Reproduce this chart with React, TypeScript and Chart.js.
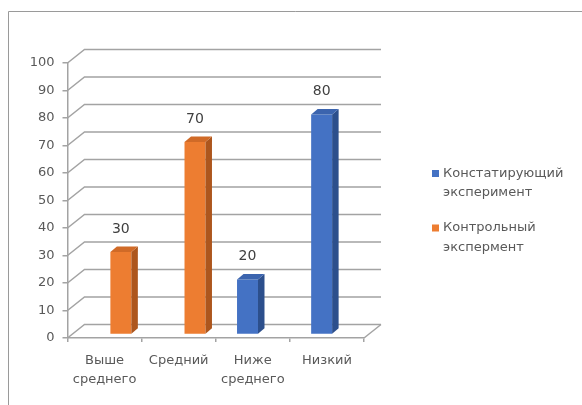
import React, { useEffect, useRef } from "react";
import { Chart, registerables } from "chart.js";

Chart.register(...registerables);

// ---- data ----
const categories: (string | string[])[] = [["Выше", "среднего"], "Средний", ["Ниже", "среднего"], "Низкий"];
const series1Name: string[] = ["Констатирующий", "эксперимент"];
const series2Name: string[] = ["Контрольный", "экспермент"];
const series1Values: (number | null)[] = [null, null, 20, 80];
const series2Values: (number | null)[] = [30, 70, null, null];
const yMin = 0;
const yMax = 100;
const yStep = 10;

// ---- styles ----
const BLUE = "#4472C4";
const BLUE_TOP = "#3b64ae";
const BLUE_SIDE = "#2c4f8c";
const ORANGE = "#ED7D31";
const ORANGE_TOP = "#d06a27";
const ORANGE_SIDE = "#ad561d";
const GRID = "#a3a3a3";
const TEXT = "#595959";
const LABEL = "#404040";
const FONT = "'DejaVu Sans', sans-serif";

// 3D geometry (px)
const WALL_DX = 17;
const WALL_DY = 13.5;
const FRONT_DX = 5.5;
const FRONT_DY = 3.5;
const DEPTH_DX = 6.5;
const DEPTH_DY = 5.5;

const faceColors = [
  { front: BLUE, top: BLUE_TOP, side: BLUE_SIDE },
  { front: ORANGE, top: ORANGE_TOP, side: ORANGE_SIDE },
];

const threeD = {
  id: "threeD",
  beforeDraw(chart: any) {
    const ctx = chart.ctx;
    ctx.save();
    ctx.fillStyle = "#ffffff";
    ctx.fillRect(0, 0, chart.width, chart.height);
    ctx.strokeStyle = "#9a9a9a";
    ctx.lineWidth = 1;
    ctx.beginPath();
    ctx.moveTo(8.5, chart.height);
    ctx.lineTo(8.5, 11.5);
    ctx.lineTo(chart.width, 11.5);
    ctx.stroke();
    ctx.restore();
  },
  beforeDatasetsDraw(chart: any) {
    const { ctx, chartArea: a, scales } = chart;
    const ys = scales.y;
    ctx.save();
    ctx.strokeStyle = GRID;
    ctx.lineWidth = 1.5;
    ys.ticks.forEach((t: any) => {
      const py = ys.getPixelForValue(t.value);
      ctx.beginPath();
      ctx.moveTo(a.left, py);
      ctx.lineTo(a.left + WALL_DX, py - WALL_DY);
      ctx.lineTo(a.right + WALL_DX, py - WALL_DY);
      ctx.stroke();
    });
    const p0 = ys.getPixelForValue(yMin);
    ctx.beginPath();
    ctx.moveTo(a.right, p0);
    ctx.lineTo(a.right + WALL_DX, p0 - WALL_DY);
    ctx.stroke();
    ctx.restore();
    ctx.save();
    ctx.translate(FRONT_DX, -FRONT_DY);
  },
  afterDatasetsDraw(chart: any) {
    const ctx = chart.ctx;
    ctx.restore();
    chart.data.datasets.forEach((ds: any, i: number) => {
      const meta = chart.getDatasetMeta(i);
      const c = faceColors[i];
      meta.data.forEach((el: any, j: number) => {
        const v = ds.data[j];
        if (v == null) return;
        const { x, y, base, width } = el.getProps(["x", "y", "base", "width"], true);
        const l = x - width / 2 + FRONT_DX;
        const r = x + width / 2 + FRONT_DX;
        const t = y - FRONT_DY;
        const b = base - FRONT_DY;
        ctx.save();
        // side face
        ctx.fillStyle = c.side;
        ctx.beginPath();
        ctx.moveTo(r, t);
        ctx.lineTo(r + DEPTH_DX, t - DEPTH_DY);
        ctx.lineTo(r + DEPTH_DX, b - DEPTH_DY);
        ctx.lineTo(r, b);
        ctx.closePath();
        ctx.fill();
        // top face
        ctx.fillStyle = c.top;
        ctx.beginPath();
        ctx.moveTo(l, t);
        ctx.lineTo(l + DEPTH_DX, t - DEPTH_DY);
        ctx.lineTo(r + DEPTH_DX, t - DEPTH_DY);
        ctx.lineTo(r, t);
        ctx.closePath();
        ctx.fill();
        // value label
        ctx.fillStyle = LABEL;
        ctx.font = `14px ${FONT}`;
        ctx.textAlign = "center";
        ctx.textBaseline = "middle";
        ctx.fillText(String(v), (l + r) / 2, t - 23);
        ctx.restore();
      });
    });
  },
  afterDraw(chart: any) {
    const ctx = chart.ctx;
    const items = [
      { name: series1Name, color: BLUE, y: 173.5 },
      { name: series2Name, color: ORANGE, y: 228 },
    ];
    ctx.save();
    ctx.font = `13px ${FONT}`;
    ctx.textAlign = "left";
    ctx.textBaseline = "middle";
    items.forEach((it) => {
      ctx.fillStyle = it.color;
      ctx.fillRect(432, it.y - 3.5, 7, 7);
      ctx.fillStyle = TEXT;
      it.name.forEach((line, k) => {
        ctx.fillText(line, 443, it.y + k * 19.5);
      });
    });
    ctx.restore();
  },
};

export default function App() {
  const ref = useRef<HTMLCanvasElement | null>(null);
  useEffect(() => {
    if (!ref.current) return;
    const chart = new Chart(ref.current, {
      type: "bar",
      data: {
        labels: categories as any,
        datasets: [
          {
            label: series1Name.join(" "),
            data: series1Values as any,
            backgroundColor: BLUE,
            borderWidth: 0,
            categoryPercentage: 0.583,
            barPercentage: 0.97,
          },
          {
            label: series2Name.join(" "),
            data: series2Values as any,
            backgroundColor: ORANGE,
            borderWidth: 0,
            categoryPercentage: 0.583,
            barPercentage: 0.97,
          },
        ],
      },
      options: {
        animation: false,
        responsive: false,
        layout: { padding: { left: 0, right: 218, top: 63, bottom: 0 } },
        plugins: {
          legend: { display: false },
          tooltip: { enabled: false },
        },
        scales: {
          x: {
            type: "category",
            offset: true,
            afterFit: (s: any) => {
              s.height = 67;
            },
            grid: {
              drawOnChartArea: false,
              drawTicks: true,
              tickLength: 4,
              color: GRID,
              lineWidth: 1.5,
              offset: true,
            },
            border: { display: true, color: GRID, width: 1.5 },
            ticks: {
              color: TEXT,
              font: { family: FONT, size: 13, lineHeight: 1.45 },
              padding: 9,
              maxRotation: 0,
              autoSkip: false,
            },
          },
          y: {
            min: yMin,
            max: yMax,
            afterFit: (s: any) => {
              s.width = 67.5;
            },
            grid: {
              drawOnChartArea: false,
              drawTicks: true,
              tickLength: 5,
              color: GRID,
              lineWidth: 1.5,
            },
            border: { display: true, color: GRID, width: 1.5 },
            ticks: {
              stepSize: yStep,
              color: TEXT,
              font: { family: FONT, size: 13 },
              padding: 8,
            },
          },
        },
      } as any,
      plugins: [threeD],
    });
    return () => chart.destroy();
  }, []);
  return (
    <div style={{ position: "fixed", left: 0, top: 0, width: 582, height: 405, background: "#fff" }}>
      <canvas ref={ref} width={582} height={405} style={{ display: "block" }} />
    </div>
  );
}
